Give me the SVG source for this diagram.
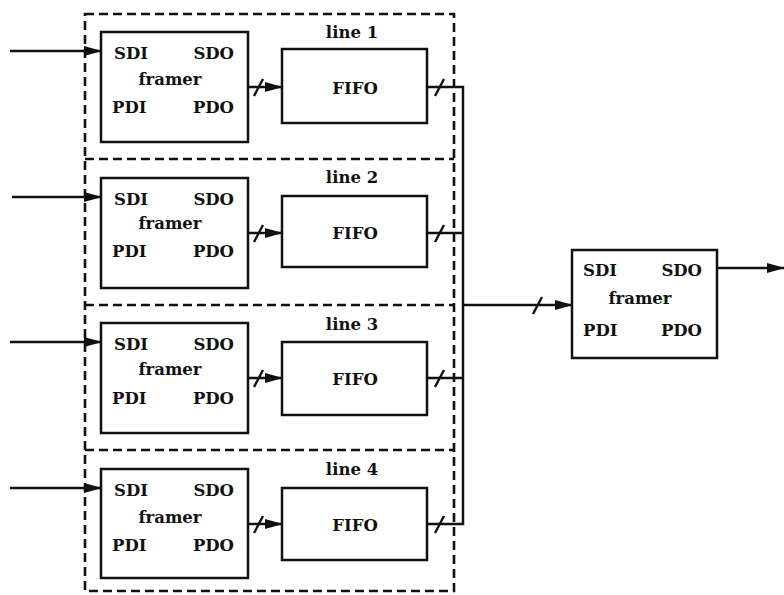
<svg xmlns="http://www.w3.org/2000/svg" width="784" height="595" viewBox="0 0 784 595">
<style>
.box{fill:#fff;stroke:#111;stroke-width:2.5}
.dash{fill:none;stroke:#111;stroke-width:2.6;stroke-dasharray:9 5}
.ln{fill:none;stroke:#111;stroke-width:2.5}
.sl{fill:none;stroke:#111;stroke-width:2.4}
text{font-family:"DejaVu Serif","Liberation Serif",serif;font-weight:bold;font-size:16.5px;fill:#111}
.m{text-anchor:middle}
.e{text-anchor:end}
</style>
<defs>
<marker id="ah" markerWidth="18" markerHeight="12" refX="17" refY="6" orient="auto" markerUnits="userSpaceOnUse">
<path d="M0,1 L18,6 L0,11 Z" fill="#111"/>
</marker>
</defs>
<rect width="784" height="595" fill="#fff"/>
<g id="group-outline">
<path class="dash" d="M85,14 H454 V591 H85 Z"/>
<path class="dash" d="M85,159 H454 M85,305 H454 M85,450 H454"/>
</g>
<g id="line1">
<text class="m" x="352" y="38">line 1</text>
<g id="framer1"><rect class="box" x="101" y="32" width="147" height="110"/>
<text x="114" y="59">SDI</text><text class="e" x="234" y="59">SDO</text>
<text class="m" x="170" y="85">framer</text>
<text x="112" y="113">PDI</text><text class="e" x="234" y="113">PDO</text></g>
<g id="fifo1"><rect class="box" x="282" y="49" width="145" height="74"/><text class="m" x="355" y="94">FIFO</text></g>
</g>
<g id="line2" transform="translate(0,146)">
<text class="m" x="352" y="37">line 2</text>
<g id="framer2"><rect class="box" x="101" y="32" width="147" height="110"/>
<text x="114" y="59">SDI</text><text class="e" x="234" y="59">SDO</text>
<text class="m" x="170" y="83">framer</text>
<text x="112" y="111">PDI</text><text class="e" x="234" y="111">PDO</text></g>
<g id="fifo2"><rect class="box" x="282" y="50" width="145" height="71"/><text class="m" x="355" y="93">FIFO</text></g>
</g>
<g id="line3" transform="translate(0,291)">
<text class="m" x="352" y="39">line 3</text>
<g id="framer3"><rect class="box" x="101" y="32" width="147" height="110"/>
<text x="114" y="59">SDI</text><text class="e" x="234" y="59">SDO</text>
<text class="m" x="170" y="84">framer</text>
<text x="112" y="113">PDI</text><text class="e" x="234" y="113">PDO</text></g>
<g id="fifo3"><rect class="box" x="282" y="51" width="145" height="73"/><text class="m" x="355" y="94">FIFO</text></g>
</g>
<g id="line4" transform="translate(0,437)">
<text class="m" x="352" y="38">line 4</text>
<g id="framer4"><rect class="box" x="101" y="32" width="147" height="109"/>
<text x="114" y="59">SDI</text><text class="e" x="234" y="59">SDO</text>
<text class="m" x="170" y="86">framer</text>
<text x="112" y="114">PDI</text><text class="e" x="234" y="114">PDO</text></g>
<g id="fifo4"><rect class="box" x="282" y="51" width="145" height="72"/><text class="m" x="355" y="94">FIFO</text></g>
</g>
<g id="framer-out">
<rect class="box" x="572" y="250" width="145" height="108"/>
<text x="583" y="276">SDI</text><text class="e" x="702" y="276">SDO</text>
<text class="m" x="640" y="304">framer</text>
<text x="583" y="336">PDI</text><text class="e" x="702" y="336">PDO</text>
</g>
<g id="connectors">
<path class="ln" d="M10,51 H101" marker-end="url(#ah)"/>
<path class="ln" d="M12,197 H101" marker-end="url(#ah)"/>
<path class="ln" d="M10,342 H101" marker-end="url(#ah)"/>
<path class="ln" d="M10,488 H101" marker-end="url(#ah)"/>
<path class="ln" d="M248,87 H282" marker-end="url(#ah)"/>
<path class="ln" d="M248,233 H282" marker-end="url(#ah)"/>
<path class="ln" d="M248,378 H282" marker-end="url(#ah)"/>
<path class="ln" d="M248,524 H282" marker-end="url(#ah)"/>
<path class="sl" d="M254,96 L263,79 M254,242 L263,225 M254,387 L263,370 M254,533 L263,516"/>
<path class="ln" d="M427,87 H463 V524 H427 M427,233 H463 M427,378 H463"/>
<path class="sl" d="M435,96 L444,79 M435,242 L444,225 M435,387 L444,370 M435,533 L444,516"/>
<path class="ln" d="M463,305 H572" marker-end="url(#ah)"/>
<path class="sl" d="M533,314 L542,297"/>
<path class="ln" d="M717,268 H784" marker-end="url(#ah)"/>
</g>
</svg>
